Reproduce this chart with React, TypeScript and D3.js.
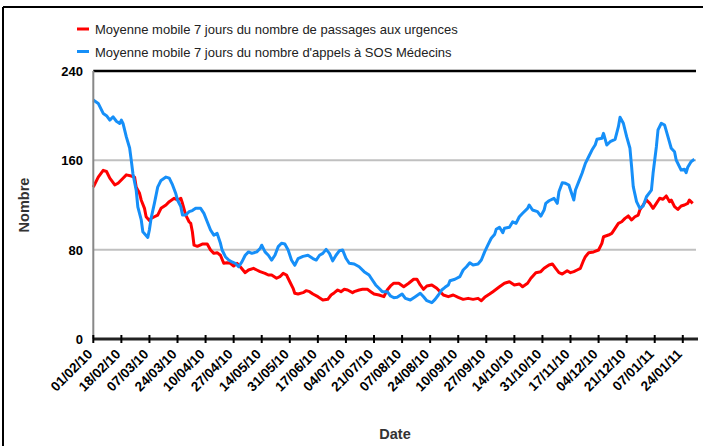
import React from "react";
import * as d3 from "d3";

// Day offsets from 01/02/2010 and values
const redDays = [0,3,6,8,10,13,15,18,20,23,25,26,28,29,31,32,34,35,37,39,41,44,46,49,51,53,54,56,58,59,60,61,63,66,69,71,73,75,77,79,81,83,85,87,89,92,94,97,99,101,104,106,108,111,113,115,117,119,121,122,124,127,129,131,133,136,139,142,144,146,148,150,152,154,157,158,161,163,166,168,170,173,176,178,180,182,185,188,191,194,196,198,200,202,205,208,210,212,215,218,221,224,227,230,233,235,237,240,242,246,249,252,255,258,260,263,265,268,271,273,276,278,280,282,284,287,289,291,293,295,297,298,300,303,306,308,309,312,314,316,318,320,322,324,326,328,330,331,333,335,337,339,341,343,345,347,349,350,352,354,356,358,360,361,363];
const redValues = [136,145,151,150,144,138,139.5,144,147,146,145,136,130.5,124.5,117,109.5,106,108,109.5,111,117,120,123,126,124.5,126,121.5,111,105,103.6,96,84,83,85,85,79.7,76.7,77.3,75,67.8,68.3,67.8,65.4,67.8,64.7,59.4,61.8,63.3,61.8,60.3,58.8,57.3,57.3,54.4,55.8,58.8,57.3,51.3,45.4,41,40.3,41.5,43.3,42.4,40.3,37.9,34.9,35.5,39.4,41.5,43.9,42.4,44.5,43.9,41.5,42.4,43.9,44.5,44.5,42.4,40.3,39.4,37.9,43.9,47.5,50,49.9,46.8,49.9,53.5,53.5,48.4,44.5,47.5,48.4,45.4,42.4,39.4,37.9,39.4,37.3,35.5,36.4,35.5,36.4,34.3,37.3,40.3,42.4,46.8,49.9,51.3,48.4,49.3,46.8,49.9,54.4,59.4,60.3,63.3,66.3,67.2,63.3,59.4,58.2,61.2,59.4,60.3,61.8,63.3,70.7,73.7,77.3,78,79.7,85.7,91.6,93.1,94.6,99.1,103.6,105,108,110.2,106.6,109.5,111,115.5,120,124.5,121.5,117,121.5,126,125.1,128.1,123,124.5,118.5,116.1,119.1,120,121.5,124.5,121.5];

const blueDays = [0,3,6,8,10,12,14,16,17,18,20,22,23,24,26,27,29,30,33,34,35,37,39,41,44,46,48,50,51,53,54,56,58,60,62,65,67,69,71,73,75,77,78,80,82,84,86,88,90,92,94,96,99,101,102,104,106,108,110,112,114,116,118,120,122,124,127,130,133,135,137,139,141,143,145,147,149,151,153,155,158,161,164,167,169,171,173,175,178,180,182,184,187,189,192,195,198,200,202,205,207,209,211,213,215,216,219,222,224,226,228,230,233,235,237,239,241,243,244,246,248,249,252,254,256,258,260,263,264,266,269,271,273,274,276,279,281,282,284,286,288,289,291,292,294,296,298,300,302,304,305,308,309,311,313,316,318,319,321,323,325,326,327,329,331,333,335,338,339,341,342,344,346,348,350,352,353,356,358,359,360,362,364];
const blueValues = [214,211,202,200,196,199,195,193,196,193,181,171,160,148,133,118,107,96,91,98,108,121.5,136,142,145,144,138,130,124.5,118.5,111,111,114,115,117,117,112.5,105,97.6,93,94.6,85.7,79.7,73.7,70.7,69,67.8,64.7,69,75,78,76.7,78,81,84,78,75,70.7,75,82.7,85.7,85,79.7,70.7,66,72,74,75,72,70.7,75,76.7,80.3,76.7,70,75,79,79.7,72.3,67.8,67.2,64.7,60.3,57.3,52.8,48.4,45.4,42.4,42.4,38.5,37,37.3,40.3,36.4,34.9,37.9,41,37.9,34.3,32.5,35.5,39.4,43.9,46.3,48.4,52.2,53.5,55.8,61.8,64.7,68.3,66.3,67.2,70.7,78,84.2,90.2,93.5,98.2,100,95.2,99.1,100,105,103.6,109.5,112.6,117,120,115.5,114,110,115.5,121.5,123.8,126,121.5,131.9,140,139.4,137.9,133.4,124.5,133.4,140.9,148.4,157.3,163.2,169.2,174,178.8,179.7,184.2,173.7,176.7,178.8,190.1,198.5,193.2,181.2,170.8,154.3,136.4,123,117,119.1,127.4,133.4,148.4,172.2,187.2,193.2,191.6,181.2,170.8,167.7,160.3,151.3,152,148.9,153.8,158.8,160.9];

const tickLabels = ["01/02/10","18/02/10","07/03/10","24/03/10","10/04/10","27/04/10","14/05/10","31/05/10","17/06/10","04/07/10","21/07/10","07/08/10","24/08/10","10/09/10","27/09/10","14/10/10","31/10/10","17/11/10","04/12/10","21/12/10","07/01/11","24/01/11"];
const yTicks = [0, 80, 160, 240];
const legendLabels = [
  "Moyenne mobile 7 jours du nombre de passages aux urgences",
  "Moyenne mobile 7 jours du nombre d'appels à SOS Médecins",
];
const colors = ["#ff0000", "#168ff8"];

const start = new Date(2010, 1, 1);
const end = new Date(2011, 1, 1);
const parse = d3.timeParse("%d/%m/%y");

export default function App() {
  const left = 93.3, right = 696, top = 71, bottom = 339;
  const x = d3.scaleTime().domain([start, end]).range([left, right]);
  const y = d3.scaleLinear().domain([0, 240]).range([bottom, top]);
  const line = d3
    .line<[number, number]>()
    .x((d) => x(d3.timeDay.offset(start, d[0])))
    .y((d) => y(d[1]));
  const redData = redDays.map((d, i) => [d, redValues[i]] as [number, number]);
  const blueData = blueDays.map((d, i) => [d, blueValues[i]] as [number, number]);
  const font = "'Liberation Sans', Arial, sans-serif";

  return (
    <svg width={703} height={446} style={{ position: "absolute", left: 0, top: 0, background: "#fff" }} fontFamily={font}>
      <rect x={0} y={0} width={703} height={446} fill="#fff" />
      {/* frame */}
      <line x1={3} x2={703} y1={7} y2={7} stroke="#000" strokeWidth={2} />
      <line x1={3} x2={3} y1={7} y2={446} stroke="#000" strokeWidth={2} />

      {/* legend */}
      {legendLabels.map((t, i) => (
        <g key={t}>
          <line x1={77} x2={89} y1={29 + i * 22.5} y2={29 + i * 22.5} stroke={colors[i]} strokeWidth={3} />
          <text x={95} y={34 + i * 22.5} fontSize={13} fill="#222">{t}</text>
        </g>
      ))}

      {/* grid */}
      {yTicks.filter((v) => v > 0 && v < 240).map((v) => (
        <line key={v} x1={left} x2={right} y1={y(v)} y2={y(v)} stroke="#c0c0c0" strokeWidth={2} />
      ))}
      <line x1={left} x2={right} y1={y(240)} y2={y(240)} stroke="#000" strokeWidth={2.5} />

      {/* y labels */}
      {yTicks.map((v) => (
        <text key={v} x={83} y={y(v) + 5} textAnchor="end" fontSize={13} fontWeight="bold" fill="#000">{v}</text>
      ))}

      {/* series */}
      <path d={line(redData) || ""} fill="none" stroke={colors[0]} strokeWidth={3} strokeLinejoin="round" />
      <path d={line(blueData) || ""} fill="none" stroke={colors[1]} strokeWidth={3} strokeLinejoin="round" />

      {/* axes */}
      <line x1={left} x2={left} y1={top} y2={bottom} stroke="#888" strokeWidth={2} />
      <line x1={left} x2={right + 2} y1={bottom} y2={bottom} stroke="#222" strokeWidth={3} />
      {tickLabels.map((t) => {
        const tx = x(parse(t) as Date);
        return (
          <g key={t}>
            <line x1={tx} x2={tx} y1={bottom - 4} y2={bottom + 4} stroke="#000" strokeWidth={2} />
            <text
              transform={`translate(${tx},355) rotate(-45)`}
              textAnchor="end"
              fontSize={13.5}
              fontWeight="bold"
              fill="#000"
            >
              {t}
            </text>
          </g>
        );
      })}

      {/* axis titles */}
      <text transform="translate(29,205) rotate(-90)" textAnchor="middle" fontSize={14.5} fontWeight="bold" fill="#333">Nombre</text>
      <text x={395} y={439} textAnchor="middle" fontSize={14.5} fontWeight="bold" fill="#333">Date</text>
    </svg>
  );
}
